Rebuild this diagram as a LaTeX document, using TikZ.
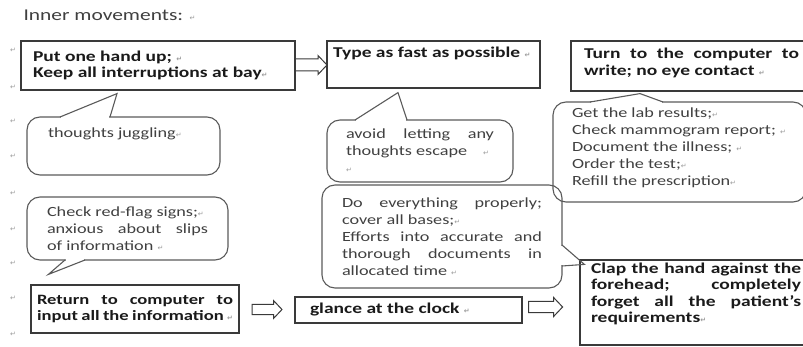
\documentclass[tikz,border=0pt]{standalone}
\usepackage{fontspec}
\setmainfont{Carlito}[FakeStretch=1.3]
\newfontfamily\markfont{DejaVu Sans}
\usetikzlibrary{calc}
\definecolor{boxline}{HTML}{3A3A3A}
\definecolor{bubbleline}{HTML}{5A5A5A}
\definecolor{bubbletext}{HTML}{404040}
\definecolor{boxtext}{HTML}{1A1A1A}
\definecolor{titletext}{HTML}{404040}
\definecolor{retgray}{HTML}{9A9A9A}
\newcommand\ret{{\markfont\fontsize{7}{7}\selectfont\color{retgray}\char"21B5}}
\hyphenpenalty=10000
\exhyphenpenalty=10000
\tolerance=9999
\tikzstyle{action} = [
  draw=boxline,
  line width=1.2pt,
  rectangle,
  align=justify,
  text=boxtext,
  inner sep=1pt,
  font=\fontsize{15}{16.5}\selectfont\bfseries,
]
\tikzstyle{bubble} = [
  draw=bubbleline,
  line width=1.1pt,
  rounded corners=13pt,
  align=justify,
  text=bubbletext,
  inner sep=1pt,
  outer sep=0pt,
  font=\fontsize{14}{17}\selectfont,
]
\tikzstyle{fatarrow} = [
  draw=boxline,
  line width=1pt,
  line join=miter,
]
\tikzstyle{tail} = [
  draw=bubbleline,
  line width=1.1pt,
]

\begin{document}
\begin{tikzpicture}[
    x=1pt,
    y=-1pt,
  ]
  \useasboundingbox (0,0) rectangle (803,347);
  \node[
    anchor=west,
    text=titletext,
    font=\fontsize{16.5}{18}\selectfont,
  ](title) at (20,15) {Inner movements: \ret};
  \foreach \y [count=\i] in {50,87,121,156,193,229,263,298,334}
    \node (m\i) at (13,\y) {\ret};
  % steps
  \node[
    action,
    minimum width=274pt,
    minimum height=49pt,
    text width=250pt,
  ](hand) at (158,65.5) {Put one hand up; \ret\\
    Keep all interruptions at bay\ret};
  \node[
    action,
    minimum width=213pt,
    minimum height=47pt,
    text width=201pt,
  ](type) at (433.5,64.5) {Type as fast as possible \ret\\[7.5pt]\mbox{}};
  \node[
    action,
    minimum width=241pt,
    minimum height=50pt,
    text width=215pt,
  ](turn) at (691.5,66) {Turn to the computer to\linebreak
    write; no eye contact \ret\\[-7.5pt]\mbox{}};
  \node[
    action,
    minimum width=208pt,
    minimum height=48pt,
    text width=196pt,
    font=\fontsize{14.3}{16.5}\selectfont\bfseries,
  ](back) at (135,309) {Return to computer to\linebreak
    input all the information \ret};
  \node[
    action,
    minimum width=227pt,
    minimum height=26pt,
    text width=197pt,
  ](clock) at (408.5,310) {glance at the clock \ret};
  \node[
    action,
    minimum width=232pt,
    minimum height=85pt,
    text width=210pt,
  ](clap) at (696,302.5) {Clap the hand against the\linebreak
    forehead; completely\linebreak
    forget all the patient’s\linebreak
    requirements\ret\\[3.5pt]\mbox{}};
  % thoughts
  \node[
    bubble,
    minimum width=193pt,
    minimum height=58pt,
    text width=151pt,
  ](juggle) at (123.5,146) {thoughts juggling\ret\\[10pt]\mbox{}};
  \node[
    bubble,
    minimum width=186pt,
    minimum height=62pt,
    text width=148pt,
  ](escape) at (420,151) {avoid letting any\linebreak
    thoughts escape\hspace{16pt}\ret\\ \ret};
  \node[
    bubble,
    minimum width=253pt,
    minimum height=100pt,
    text width=215pt,
  ](labs) at (679.5,152) {Get the lab results;\ret\\
    Check mammogram report; \ret\\
    Document the illness; \ret\\
    Order the test;\ret\\
    Refill the prescription\ret\\[-6pt]\mbox{}};
  \node[
    bubble,
    minimum width=201pt,
    minimum height=63pt,
    text width=161pt,
  ](redflag) at (127.5,228.5) {Check red-flag signs;\ret\\
    anxious about slips\linebreak
    of information \ret};
  \node[
    bubble,
    minimum width=240pt,
    minimum height=103pt,
    text width=200pt,
  ](proper) at (442,236.5) {Do everything properly;\linebreak
    cover all bases;\ret\\
    Efforts into accurate and\linebreak
    thorough documents in\linebreak
    allocated time \ret};
  % block arrows
  \coordinate (a1) at ($(hand.east)!0.5!(type.west)$);
  \coordinate (a2) at ($(back.east)!0.5!(clock.west)$);
  \coordinate (a3) at ($(clock.east)+(23,-3)$);
  \draw[fatarrow] ($(a1)+(-16,-6)$) -- ++(23,0) -- ++(0,-3.5) -- ++(9,9.5)
    -- ++(-9,9.5) -- ++(0,-3.5) -- ++(-23,0) -- cycle;
  \draw[fatarrow] ($(a2)+(-15,-5)$) -- ++(21.5,0) -- ++(0,-4) -- ++(8.5,9)
    -- ++(-8.5,9) -- ++(0,-4) -- ++(-21.5,0) -- cycle;
  \draw[fatarrow] ($(a3)+(-17,-5.5)$) -- ++(25,0) -- ++(0,-4) -- ++(9,9.5)
    -- ++(-9,9.5) -- ++(0,-4) -- ++(-25,0) -- cycle;
  % tails
  \fill[white] ($(juggle.north)+(-62.5,-1.5)$) rectangle ($(juggle.north)+(-14.5,1.5)$);
  \draw[tail] ($(juggle.north)+(-63.5,0)$) -- ($(hand.south)+(-41,3)$)
    -- ($(juggle.north)+(-13.5,0)$);
  \fill[white] ($(escape.north)+(-64,-1.5)$) rectangle ($(escape.north)+(-14,1.5)$);
  \draw[tail] ($(escape.north)+(-65,0)$) -- ($(type.south)+(-35.5,4)$)
    -- ($(escape.north)+(-13,0)$);
  \fill[white] ($(labs.north)+(-88.5,-1.5)$) rectangle ($(labs.north)+(-17.5,1.5)$);
  \draw[tail] ($(labs.north)+(-89.5,0)$) -- ($(turn.south)+(-51.5,2)$)
    -- ($(labs.north)+(-16.5,0)$);
  \fill[white] ($(redflag.south)+(-61.5,-1.5)$) rectangle ($(redflag.south)+(-43.5,1.5)$);
  \draw[tail] ($(redflag.south)+(-62.5,0)$) -- ($(back.north west)+(18,-10)$)
    -- ($(redflag.south)+(-42.5,0)$);
  \fill[white] ($(proper.east)+(-1.5,9.5)$) rectangle ($(proper.east)+(1.5,28.5)$);
  \draw[tail] ($(proper.east)+(0,8.5)$) -- ($(clap.north west)+(5,5)$)
    -- ($(proper.east)+(0,29.5)$);
\end{tikzpicture}
\end{document}
